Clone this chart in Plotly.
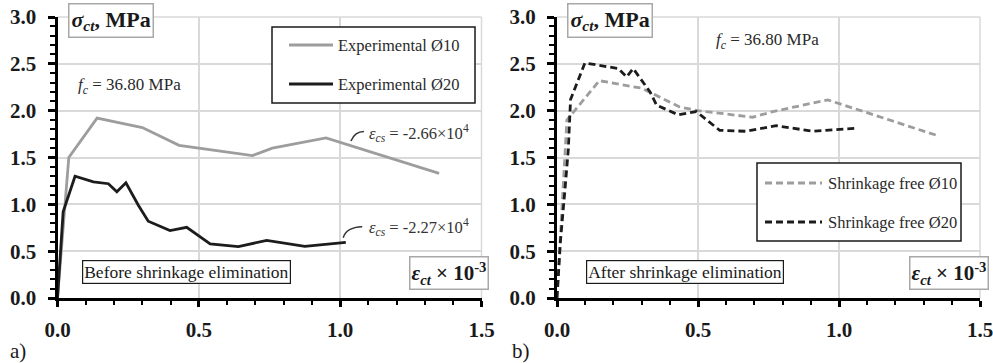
import plotly.graph_objects as go

# ---------------- data ----------------
exp10_x = [0.0, 0.04, 0.14, 0.30, 0.43, 0.69, 0.76, 0.95, 1.35]
exp10_y = [0.0, 1.50, 1.92, 1.82, 1.63, 1.52, 1.60, 1.71, 1.33]

exp20_x = [0.0, 0.02, 0.062, 0.127, 0.18, 0.21, 0.242, 0.286, 0.321, 0.398, 0.457, 0.54, 0.64, 0.74, 0.875, 1.02]
exp20_y = [0.0, 0.92, 1.30, 1.24, 1.22, 1.135, 1.23, 0.99, 0.82, 0.72, 0.755, 0.577, 0.548, 0.616, 0.552, 0.595]

free10_x = [0.0, 0.035, 0.15, 0.30, 0.435, 0.50, 0.694, 0.765, 0.96, 1.353]
free10_y = [0.0, 1.90, 2.32, 2.24, 2.04, 2.00, 1.93, 1.99, 2.115, 1.73]

free20_x = [0.0, 0.012, 0.028, 0.04, 0.048, 0.099, 0.217, 0.247, 0.27, 0.33, 0.353, 0.43, 0.494, 0.577, 0.671, 0.777, 0.907, 1.054]
free20_y = [0.0, 0.60, 1.15, 1.58, 2.12, 2.51, 2.45, 2.36, 2.45, 2.20, 2.06, 1.955, 1.99, 1.79, 1.78, 1.84, 1.78, 1.81]

x_range = [0.0, 1.5]
y_range = [0.0, 3.0]
major_step = 0.5
minor_step = 0.1

names_left = ["Experimental Ø10", "Experimental Ø20"]
names_right = ["Shrinkage free Ø10", "Shrinkage free Ø20"]

W, H = 993, 363
SERIF = "Liberation Serif"
GRAY = "#9d9d9d"
BLACK = "#1c1c1c"
GRID = "#d9d9d9"
BOXGRAY = "#a8a8a8"


def PX(px):
    return px / W


def PY(py):
    return 1 - py / H


fig = go.Figure()

# left panel
fig.add_trace(go.Scatter(x=exp10_x, y=exp10_y, mode="lines", name=names_left[0],
                         line=dict(color=GRAY, width=2.8), xaxis="x", yaxis="y", showlegend=False))
fig.add_trace(go.Scatter(x=exp20_x, y=exp20_y, mode="lines", name=names_left[1],
                         line=dict(color=BLACK, width=2.8), xaxis="x", yaxis="y", showlegend=False))
# right panel
fig.add_trace(go.Scatter(x=free10_x, y=free10_y, mode="lines", name=names_right[0],
                         line=dict(color=GRAY, width=2.8, dash="7px,4px"), xaxis="x2", yaxis="y2", showlegend=False))
fig.add_trace(go.Scatter(x=free20_x, y=free20_y, mode="lines", name=names_right[1],
                         line=dict(color=BLACK, width=2.8, dash="7px,4px"), xaxis="x2", yaxis="y2", showlegend=False))

tickfont = dict(family=SERIF, size=21, color="#1a1a1a", weight="bold")


def axis_cfg(domain, anchor, rng, ticklen, minorlen, standoff):
    return dict(domain=domain, anchor=anchor, range=rng, tickmode="linear", tick0=0, dtick=major_step,
                tickformat=".1f", automargin=False, ticklabeloverflow="allow",
                showgrid=True, gridcolor=GRID, gridwidth=1.5, zeroline=False,
                showline=True, linecolor="black", linewidth=3,
                ticks="outside", ticklen=ticklen, tickwidth=2.5, tickcolor="black",
                minor=dict(dtick=minor_step, tick0=0, ticks="outside", ticklen=minorlen, tickwidth=2,
                           tickcolor="black", showgrid=False),
                tickfont=tickfont, ticklabelstandoff=standoff, fixedrange=True)


ydom = [PY(298), PY(17)]
fig.update_layout(
    width=W, height=H, margin=dict(l=0, r=0, t=0, b=0, autoexpand=False),
    paper_bgcolor="white", plot_bgcolor="white",
    xaxis=axis_cfg([PX(57.5), PX(481.5)], "y", x_range, 6, 4, 5),
    yaxis=axis_cfg(ydom, "x", y_range, 7, 5, 7),
    xaxis2=axis_cfg([PX(557), PX(980)], "y2", x_range, 6, 4, 5),
    yaxis2=axis_cfg(ydom, "x2", y_range, 7, 5, 7),
    showlegend=False,
    font=dict(family=SERIF, color="#1a1a1a"),
)

shapes = []
# top/right gray borders of plot areas
for xr, yr in (("x", "y"), ("x2", "y2")):
    shapes.append(dict(type="line", xref=f"{xr} domain", yref=f"{yr} domain", x0=0, x1=1, y0=1, y1=1,
                       line=dict(color=GRID, width=1.5), layer="below"))
    shapes.append(dict(type="line", xref=f"{xr} domain", yref=f"{yr} domain", x0=1, x1=1, y0=0, y1=1,
                       line=dict(color=GRID, width=1.5), layer="below"))

annotations = []


# manual legends
def legend(box, rows, line_x, text_x, names, colors, dashes):
    x0, x1, y0, y1 = box
    shapes.append(dict(type="rect", xref="paper", yref="paper", x0=PX(x0), x1=PX(x1), y0=PY(y1), y1=PY(y0),
                       line=dict(color="#1a1a1a", width=1.5), fillcolor="white", layer="above"))
    for ry, nm, c, d in zip(rows, names, colors, dashes):
        shapes.append(dict(type="line", xref="paper", yref="paper", x0=PX(line_x[0]), x1=PX(line_x[1]),
                           y0=PY(ry), y1=PY(ry), line=dict(color=c, width=2.8, dash=d), layer="above"))
        annotations.append(dict(text=nm, xref="paper", yref="paper", x=PX(text_x), y=PY(ry),
                                xanchor="left", yanchor="middle", showarrow=False,
                                font=dict(family=SERIF, size=16.5, color="#2a2a2a")))


legend((272, 475, 27, 103), [45, 84], (289, 333), 336, names_left, [GRAY, BLACK], ["solid", "solid"])
legend((757, 961, 163, 241), [183, 222], (765, 822), 826, names_right, [GRAY, BLACK], ["7px,4px", "7px,4px"])

# sigma boxes
for cx in (110.5, 609.5):
    annotations.append(dict(text="<b><i>σ</i><sub><i>ct</i></sub>, MPa</b>", xref="paper", yref="paper",
                            x=PX(cx), y=PY(20.5), xanchor="center", yanchor="middle", showarrow=False,
                            font=dict(family=SERIF, size=22, color="#1a1a1a"),
                            bordercolor=BOXGRAY, borderwidth=1.5, borderpad=2, bgcolor="white"))
# epsilon boxes
for cx in (449, 949):
    annotations.append(dict(text="<b><i>ε</i><sub><i>ct</i></sub> × 10<sup>-3</sup></b>", xref="paper", yref="paper",
                            x=PX(cx), y=PY(272.5), xanchor="center", yanchor="middle", showarrow=False,
                            font=dict(family=SERIF, size=21, color="#1a1a1a"),
                            bordercolor=BOXGRAY, borderwidth=1.5, borderpad=1, bgcolor="white"))
# fc labels
for cx, cy in ((129, 86), (767.5, 41)):
    annotations.append(dict(text="<i>f</i><sub><i>c</i></sub> = 36.80 MPa", xref="paper", yref="paper",
                            x=PX(cx), y=PY(cy), xanchor="center", yanchor="middle", showarrow=False,
                            font=dict(family=SERIF, size=17, color="#2a2a2a")))
# stage boxes
for cx, txt in ((186, "Before shrinkage elimination"), (684.5, "After shrinkage elimination")):
    annotations.append(dict(text=txt, xref="paper", yref="paper",
                            x=PX(cx), y=PY(272), xanchor="center", yanchor="middle", showarrow=False,
                            font=dict(family=SERIF, size=17.5, color="#1a1a1a"),
                            bordercolor="#1a1a1a", borderwidth=1.2, borderpad=1, bgcolor="white"))
# shrinkage strain notes with curved leaders
for ty, txt in ((133, "<i>ε</i><sub><i>cs</i></sub> = -2.66×10<sup>4</sup>"),
                (227, "<i>ε</i><sub><i>cs</i></sub> = -2.27×10<sup>4</sup>")):
    annotations.append(dict(text=txt, xref="paper", yref="paper", x=PX(367), y=PY(ty),
                            xanchor="left", yanchor="middle", showarrow=False,
                            font=dict(family=SERIF, size=16.5, color="#333333")))
shapes.append(dict(type="path", xref="x", yref="y", path="M 1.038 1.676 Q 1.052 1.778 1.084 1.778",
                   line=dict(color="#333333", width=1.5)))
shapes.append(dict(type="path", xref="x", yref="y", path="M 1.011 0.644 Q 1.021 0.755 1.078 0.761",
                   line=dict(color="#333333", width=1.5)))

# panel letters
for lx, lt in ((8, "a)"), (510, "b)")):
    annotations.append(dict(text=lt, xref="paper", yref="paper", x=PX(lx), y=PY(351),
                            xanchor="left", yanchor="middle", showarrow=False,
                            font=dict(family=SERIF, size=21, color="#1a1a1a")))

fig.update_layout(shapes=shapes, annotations=annotations)
fig.write_html("out.html")
